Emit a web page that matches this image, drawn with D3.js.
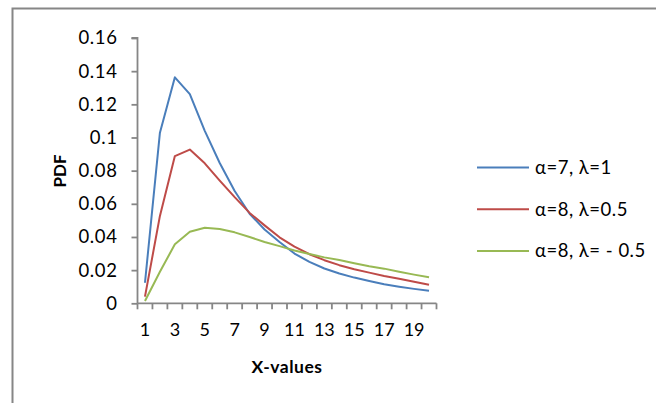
<!DOCTYPE html>
<html><head><meta charset="utf-8">
<script src="https://cdn.jsdelivr.net/npm/d3@7"></script>
<style>body{margin:0;background:#fff}svg{display:block}text{font-family:Lato,"Open Sans",sans-serif;fill:#000}</style>
</head><body><svg id="c" width="656" height="403"></svg>
<script>
const xValues = d3.range(1, 21);
const xTickLabels = [1,3,5,7,9,11,13,15,17,19];
const yTicks = [0,0.02,0.04,0.06,0.08,0.1,0.12,0.14,0.16];
const seriesNames = ["α=7, λ=1", "α=8, λ=0.5", "α=8, λ= - 0.5"];
const blue  = [0.0124,0.1029,0.1363,0.1262,0.104,0.0846,0.0677,0.054,0.0445,0.037,0.030,0.025,0.021,0.018,0.0155,0.0135,0.0115,0.010,0.0087,0.0075];
const red   = [0.004,0.0527,0.0888,0.0927,0.0844,0.074,0.064,0.0545,0.047,0.0398,0.0342,0.0296,0.026,0.023,0.0205,0.0185,0.0165,0.0148,0.013,0.0112];
const green = [0.0014,0.019,0.0356,0.0432,0.0456,0.0448,0.0428,0.040,0.037,0.0345,0.0318,0.0297,0.0277,0.0261,0.0241,0.0223,0.0209,0.019,0.0173,0.0157];
const colors = ["#4A7EBB", "#BE4B48", "#98B954"];
const allSeries = [blue, red, green];

const svg = d3.select("#c");
svg.append("rect").attr("x",12.5).attr("y",8.5).attr("width",700).attr("height",500)
  .attr("fill","none").attr("stroke","#868686").attr("stroke-width",2);

const x = d3.scaleBand().domain(xValues).range([137.5, 436.5]);
const y = d3.scaleLinear().domain([0, 0.16]).range([303.3, 38]);

const ya = svg.append("g").attr("transform","translate(137.5,0)")
  .call(d3.axisLeft(y).tickValues(yTicks).tickSize(6).tickPadding(14).tickFormat(d=>String(+d.toFixed(2))));
ya.select(".domain").attr("stroke","#868686").attr("stroke-width",1.8).attr("d","M-6,38H0V303.3");
ya.selectAll(".tick line").attr("stroke","#868686").attr("stroke-width",1.8);
ya.selectAll(".tick text").attr("font-size",18.5).attr("font-family","Lato,sans-serif").attr("letter-spacing",0.6);

const xa = svg.append("g").attr("transform","translate(0,303.3)");
xa.append("line").attr("x1",137.5).attr("x2",436.5).attr("stroke","#868686").attr("stroke-width",1.8);
const edges = xValues.map(v=>x(v)).concat([x.range()[1]]);
xa.selectAll("line.t").data(edges).join("line").attr("class","t")
  .attr("x1",d=>d).attr("x2",d=>d).attr("y1",0).attr("y2",6).attr("stroke","#868686").attr("stroke-width",1.8);
xa.selectAll("text").data(xTickLabels).join("text")
  .attr("x",d=>x(d)+x.bandwidth()/2).attr("y",33).attr("text-anchor","middle")
  .attr("font-size",18).text(d=>d);

svg.append("text").attr("x",287).attr("y",373).attr("text-anchor","middle")
  .attr("font-size",17.5).attr("font-weight","bold").attr("letter-spacing",0.5).text("X-values");
svg.append("text").attr("transform","translate(66,171) rotate(-90)").attr("text-anchor","middle")
  .attr("font-size",17).attr("font-weight","bold").text("PDF");

const line = d3.line().x((d,i)=>x(xValues[i])+x.bandwidth()/2).y(d=>y(d));
allSeries.forEach((s,k)=>{
  svg.append("path").datum(s).attr("d",line).attr("fill","none")
    .attr("stroke",colors[k]).attr("stroke-width",2).attr("stroke-linejoin","round");
});

const lg = svg.append("g");
seriesNames.forEach((n,k)=>{
  const yy = 167.5 + k*41.7;
  lg.append("line").attr("x1",477).attr("x2",529).attr("y1",yy).attr("y2",yy)
    .attr("stroke",colors[k]).attr("stroke-width",2);
  lg.append("text").attr("x",535).attr("y",yy+6.5).attr("font-size",18.5).attr("letter-spacing",0.5).text(n);
});
</script></body></html>
